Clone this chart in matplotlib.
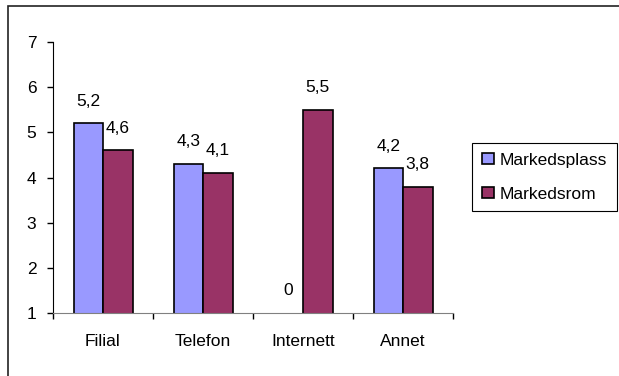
import numpy as np
import matplotlib.pyplot as plt
from matplotlib.patches import Rectangle

# Svar per kanal, to serier
kategorier   = ['Filial', 'Telefon', 'Internett', 'Annet']
markedsplass = [5.2, 4.3, 0, 4.2]
markedsrom   = [4.6, 4.1, 5.5, 3.8]
serier       = ['Markedsplass', 'Markedsrom']
farger       = ['#9999ff', '#993366']

plt.rcParams['font.family'] = ['Liberation Sans', 'DejaVu Sans']
plt.rcParams['font.size'] = 12.5

fig = plt.figure(figsize=(6.19, 3.76), dpi=100)
ax = fig.add_axes([53/619, 63/376, 400/619, 271/376])

x = np.arange(len(kategorier))
b = 0.295  # bredde per stolpe

for i, (verdier, farge, navn) in enumerate(zip([markedsplass, markedsrom], farger, serier)):
    xs = x + (i - 0.5) * b
    ax.bar(xs, verdier, b, color=farge, edgecolor='black', linewidth=1.2, label=navn)
    for xi, v in zip(xs, verdier):
        tekst = ('%g' % v).replace('.', ',')
        ax.annotate(tekst, (xi, max(v, 1)), xytext=(0, 16), textcoords='offset points',
                    ha='center', va='center')

ax.set_xlim(-0.5, 3.5)
ax.set_ylim(1, 7)
ax.set_yticks(range(1, 8))

# kategorinavn midt i feltet, streker mellom feltene
ax.set_xticks(x)
ax.set_xticklabels(kategorier)
ax.set_xticks(np.arange(-0.5, 4, 1), minor=True)
ax.tick_params(axis='x', which='major', length=0, pad=15)
ax.tick_params(axis='x', which='minor', length=4, width=1, color='black', direction='out')
ax.tick_params(axis='y', length=4, width=1, color='black', pad=8)

for s in ['top', 'right']:
    ax.spines[s].set_visible(False)
ax.spines['left'].set_color('black')
ax.spines['bottom'].set_color('#808080')

ax.legend(loc='upper left', bbox_to_anchor=(472/619, 1 - 143/376),
          bbox_transform=fig.transFigure, fancybox=False, edgecolor='black',
          framealpha=1, handlelength=0.7, handleheight=0.6, handletextpad=0.35,
          borderpad=0.55, labelspacing=1.1, borderaxespad=0)
ax.get_legend().get_frame().set_linewidth(0.8)

# ramme rundt hele diagrammet
fig.patches.append(Rectangle((8/619, -0.1), 1.1, 1.1 - 6/376, transform=fig.transFigure,
                             fill=False, edgecolor='#222222', linewidth=1.2))

fig.savefig('out.png', dpi=100)
